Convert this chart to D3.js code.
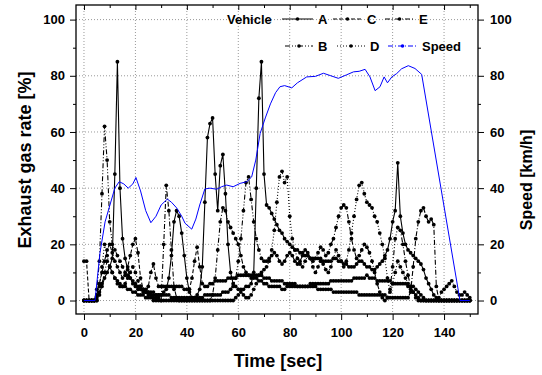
<!DOCTYPE html>
<html>
<head>
<meta charset="utf-8">
<script src="https://cdn.jsdelivr.net/npm/d3@7/dist/d3.min.js"></script>
<style>
  body { margin: 0; background: #fff; }
  text { font-family: "Liberation Sans", Arial, sans-serif; font-weight: bold; }
</style>
</head>
<body>
<script>
// sample times of the vehicle traces (one reading per second)
var seconds = d3.range(0, 151);

// exhaust gas rate [%] per vehicle
var vehicleA = [0,0,0,0,0,1,3,5,8,10,12,
  15,45,85,40,22,15,11,8,6,5,
  4,4,3,3,3,2,2,2,2,2,
  3,4,8,16,28,32,30,24,16,8,
  3,1,1,2,4,12,35,58,63,65,
  45,32,48,52,38,20,10,6,5,4,
  4,4,5,5,6,10,40,72,85,45,
  34,33,31,29,27,25,24,22,21,20,
  19,18,18,17,17,16,16,15,15,15,
  15,15,14,14,14,14,15,15,14,14,
  13,13,12,12,12,13,14,14,13,12,
  12,11,11,12,13,14,16,18,22,28,
  32,49,30,24,20,18,17,16,15,14,
  13,11,8,6,4,2,1,0,0,0,
  0,0,0,0,0,0,0,0,0,0];

var vehicleB = [0,0,0,0,0,4,14,38,62,50,28,
  20,18,16,14,12,10,9,8,7,6,
  5,5,4,4,3,3,3,2,2,2,
  2,2,2,1,1,1,1,1,1,1,
  1,1,1,1,1,1,2,2,2,2,
  2,2,2,3,3,3,4,5,8,14,
  22,32,42,44,36,28,22,18,15,14,
  14,15,16,17,16,14,13,14,16,17,
  16,14,13,14,16,18,17,15,14,15,
  17,19,18,16,17,20,22,26,30,33,
  34,33,28,22,18,15,16,18,20,19,
  17,14,10,6,3,1,0,1,4,12,
  22,26,25,20,14,9,5,3,1,0,
  0,0,0,0,0,0,0,0,0,0,
  0,0,0,0,0,0,0,0,0,0];

var vehicleC = [14,14,0,0,0,2,6,10,14,18,20,
  17,14,12,10,8,9,12,16,20,22,
  17,8,4,3,5,10,13,8,5,5,
  5,5,5,5,4,5,5,5,4,4,
  4,8,14,19,12,6,5,5,6,6,
  7,7,7,7,7,8,8,8,8,9,
  9,9,9,9,8,8,8,7,7,6,
  6,5,5,5,5,5,4,4,5,5,
  5,5,5,5,5,5,5,6,6,6,
  6,6,6,6,6,7,7,7,7,7,
  7,7,7,7,8,8,8,8,8,9,
  8,8,8,7,7,7,7,7,7,6,
  6,6,6,6,6,5,5,5,4,3,
  2,1,0,0,0,0,0,0,0,0,
  0,0,0,0,0,0,0,0,0,0];

var vehicleD = [0,0,0,0,0,0,5,12,20,16,12,
  10,8,6,5,5,6,8,10,12,10,
  7,5,4,3,2,2,1,1,1,0,
  0,0,0,0,0,0,0,0,0,0,
  0,0,0,0,0,0,0,0,0,0,
  0,0,0,0,0,0,0,0,1,2,
  3,2,1,1,2,4,6,9,10,11,
  12,14,18,25,35,44,46,42,44,30,
  22,18,15,13,12,14,16,15,12,10,
  12,14,13,11,10,12,15,18,16,14,
  12,14,18,24,30,36,41,42,38,35,
  34,33,30,28,24,20,15,8,3,6,
  10,14,12,10,8,6,4,3,2,1,
  0,0,0,0,0,0,0,1,3,4,
  5,6,7,5,3,2,2,3,2,1];

var vehicleE = [0,0,0,0,0,0,2,6,10,14,12,
  10,8,7,6,5,5,4,4,3,3,
  2,2,2,1,1,1,0,0,0,0,
  20,41,32,18,5,1,0,0,0,0,
  0,0,0,0,0,0,0,0,0,2,
  8,18,28,33,32,28,26,24,22,20,
  16,12,10,9,9,9,9,9,9,8,
  8,8,7,7,7,7,7,6,6,6,
  6,6,5,5,5,5,5,5,5,5,
  4,4,4,4,4,4,3,3,3,3,
  3,3,3,3,3,3,2,2,2,2,
  2,2,2,2,2,2,2,1,1,1,
  1,1,1,1,1,1,3,12,22,28,
  32,33,30,28,29,27,5,0,0,0,
  0,0,0,0,0,0,0,0,0,0];

// vehicle speed [km/h]
var speedTime = [0,4.3,6.2,8.2,10.1,12,13.7,15.5,17.2,19,20.2,22,24,26,28,30,32.4,34,36,38,
  39.3,41.9,43.5,45,47,49,51.6,53.5,55.5,58,60.7,63.3,65.2,66.8,68.5,70.5,72.5,74.5,76.2,78,
  80.8,83,86.6,90,93.1,96,98.9,102,104.8,107,109.3,111.2,113.2,115.1,116.7,118,119.7,121.6,123.5,126.1,
  128.7,131.3,146.2,150];
var speedValue = [0,0,16.8,28,34,40,42.3,41.5,40,41.5,43.8,39,32,27.7,30,34,36.1,35,33,30,
  27.5,25.4,29,34,39.7,40,39.6,40.5,41.1,40.5,41.7,42.3,44,50,59.5,65,70,74,76.1,76.5,
  75.7,77.5,79.6,79.8,80.9,80,79.1,80.3,81.4,81.6,82.3,79.6,74.7,76.1,79.6,77.5,79.6,80.8,82.5,83.6,
  82.6,80.5,0,0];

// tick values
var xTicks = [0,20,40,60,80,100,120,140];
var xMinor = [10,30,50,70,90,110,130,150];
var yTicks = [0,20,40,60,80,100];
var yMinor = [10,30,50,70,90];

var margin = {left: 76, top: 5, right: 64, bottom: 61},
    width = 542 - margin.left - margin.right,
    height = 375 - margin.top - margin.bottom;

var x = d3.scaleLinear().domain([-3.1, 153.2]).range([0, width]);
var y = d3.scaleLinear().domain([-4.8, 105.2]).range([height, 0]);
var ySpeed = d3.scaleLinear().domain([-4.8, 105.2]).range([height, 0]);

var svg = d3.select("body").append("svg")
    .attr("width", 542)
    .attr("height", 375);

var g = svg.append("g")
    .attr("transform", "translate(" + margin.left + "," + margin.top + ")");

g.append("clipPath").attr("id", "clip")
  .append("rect").attr("width", width).attr("height", height);

// dotted grid
g.selectAll(".gx").data(xTicks).enter().append("line")
    .attr("x1", d => x(d)).attr("x2", d => x(d))
    .attr("y1", 0).attr("y2", height)
    .attr("stroke", "#999").attr("stroke-dasharray", "1,2");
g.selectAll(".gy").data(yTicks).enter().append("line")
    .attr("y1", d => y(d)).attr("y2", d => y(d))
    .attr("x1", 0).attr("x2", width)
    .attr("stroke", "#999").attr("stroke-dasharray", "1,2");

var vehicles = [
  {name: "A", values: vehicleA, dash: null},
  {name: "B", values: vehicleB, dash: "5,2,1,2,1,2"},
  {name: "C", values: vehicleC, dash: "4,2"},
  {name: "D", values: vehicleD, dash: "1,2"},
  {name: "E", values: vehicleE, dash: "5,2,1,2"}
];

var line = d3.line().x(d => x(d[0])).y(d => y(d[1]));

var plot = g.append("g").attr("clip-path", "url(#clip)");

vehicles.forEach(function(v) {
  var pts = seconds.map((t, i) => [t, v.values[i]]);
  plot.append("path")
      .datum(pts)
      .attr("d", line)
      .attr("fill", "none")
      .attr("stroke", "#000")
      .attr("stroke-width", 1.1)
      .attr("stroke-dasharray", v.dash);
  plot.selectAll(null).data(pts).enter().append("circle")
      .attr("cx", d => x(d[0]))
      .attr("cy", d => y(d[1]))
      .attr("r", 1.9)
      .attr("fill", "#000");
});

// speed line
var speedPts = speedTime.map((t, i) => [t, speedValue[i]]);
plot.append("path")
    .datum(speedPts)
    .attr("d", d3.line().x(d => x(d[0])).y(d => ySpeed(d[1])))
    .attr("fill", "none")
    .attr("stroke", "#0000ff")
    .attr("stroke-width", 1);

// frame
g.append("rect")
    .attr("width", width).attr("height", height)
    .attr("fill", "none").attr("stroke", "#000").attr("stroke-width", 1.3);

function styleAxis(sel) {
  sel.select(".domain").remove();
  sel.attr("font-family", "Liberation Sans, Arial, sans-serif")
     .attr("font-size", 13).attr("font-weight", "bold");
  sel.selectAll("line").attr("stroke", "#000");
  sel.selectAll("text").attr("fill", "#000");
}

g.append("g").attr("transform", "translate(0," + height + ")")
    .call(d3.axisBottom(x).tickValues(xTicks).tickSize(6).tickPadding(8).tickFormat(d3.format("d")))
    .call(styleAxis);
g.append("g").attr("transform", "translate(0," + height + ")")
    .call(d3.axisBottom(x).tickValues(xMinor).tickSize(3).tickFormat(""))
    .call(styleAxis);
g.append("g")
    .call(d3.axisTop(x).tickValues(xTicks).tickSize(-5).tickFormat(""))
    .call(styleAxis);
g.append("g")
    .call(d3.axisTop(x).tickValues(xMinor).tickSize(-3).tickFormat(""))
    .call(styleAxis);
g.append("g")
    .call(d3.axisLeft(y).tickValues(yTicks).tickSize(6).tickPadding(5).tickFormat(d3.format("d")))
    .call(styleAxis);
g.append("g")
    .call(d3.axisLeft(y).tickValues(yMinor).tickSize(3).tickFormat(""))
    .call(styleAxis);
g.append("g").attr("transform", "translate(" + width + ",0)")
    .call(d3.axisRight(ySpeed).tickValues(yTicks).tickSize(6).tickPadding(6).tickFormat(d3.format("d")))
    .call(styleAxis);
g.append("g").attr("transform", "translate(" + width + ",0)")
    .call(d3.axisRight(ySpeed).tickValues(yMinor).tickSize(3).tickFormat(""))
    .call(styleAxis);

// axis titles
svg.append("text")
    .attr("transform", "translate(31,160) rotate(-90)")
    .attr("text-anchor", "middle").attr("font-size", 18)
    .text("Exhaust gas rate [%]");
svg.append("text")
    .attr("x", 278).attr("y", 367)
    .attr("text-anchor", "middle").attr("font-size", 18)
    .text("Time [sec]");
svg.append("text")
    .attr("transform", "translate(532,180) rotate(-90)")
    .attr("text-anchor", "middle").attr("font-size", 16)
    .text("Speed [km/h]");

// legend
var legend = svg.append("g").attr("font-size", 13);
legend.append("text").attr("x", 227).attr("y", 24).text("Vehicle");

function legendItem(x0, x1, yc, label, dash, color) {
  legend.append("line")
      .attr("x1", x0).attr("x2", x1).attr("y1", yc).attr("y2", yc)
      .attr("stroke", color).attr("stroke-width", 1)
      .attr("stroke-dasharray", dash);
  legend.append("circle")
      .attr("cx", (x0 + x1) / 2).attr("cy", yc).attr("r", 1.8).attr("fill", color);
  legend.append("text").attr("x", x1 + 5).attr("y", yc + 5).attr("fill", "#000").text(label);
}
legendItem(282, 313, 19, "A", vehicles[0].dash, "#000");
legendItem(333, 362, 19, "C", vehicles[2].dash, "#000");
legendItem(385, 414, 19, "E", vehicles[4].dash, "#000");
legendItem(285, 313, 46, "B", vehicles[1].dash, "#000");
legendItem(337, 365, 46, "D", vehicles[3].dash, "#000");
legendItem(388, 417, 46, "Speed", "5,2,1,2", "#0000ff");
</script>
</body>
</html>
